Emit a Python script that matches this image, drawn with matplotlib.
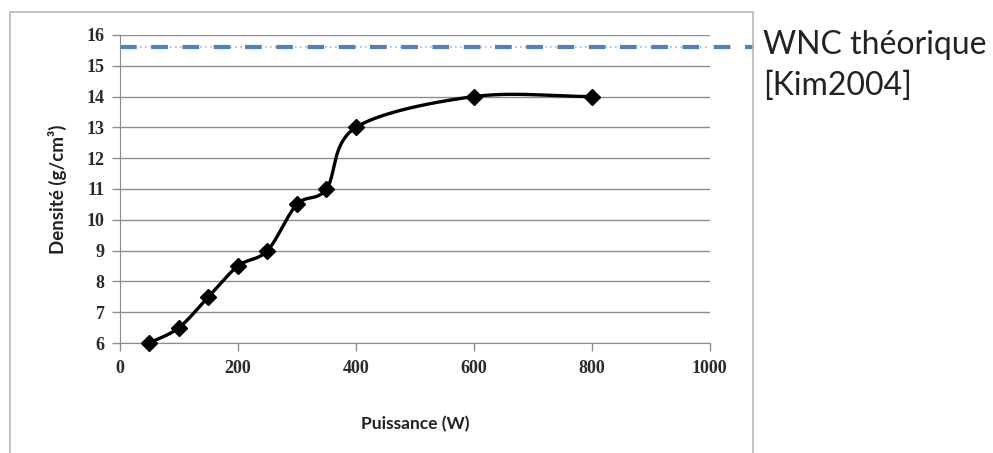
import numpy as np
import matplotlib.pyplot as plt
from matplotlib.patches import Rectangle

# data
puissance = [50, 100, 150, 200, 250, 300, 350, 400, 600, 800]
densite = [6.0, 6.5, 7.5, 8.5, 9.0, 10.5, 11.0, 13.0, 14.0, 14.0]
wnc_theorique = 15.6
x_ticks = [0, 200, 400, 600, 800, 1000]
y_ticks = [6, 7, 8, 9, 10, 11, 12, 13, 14, 15, 16]


def smooth_curve(x, y, n=40):
    """Catmull-Rom smoothing, similar to the spreadsheet 'smoothed line'"""
    x = np.asarray(x, float)
    y = np.asarray(y, float)
    px = np.concatenate([[2 * x[0] - x[1]], x, [2 * x[-1] - x[-2]]])
    py = np.concatenate([[2 * y[0] - y[1]], y, [2 * y[-1] - y[-2]]])
    xs, ys = [], []
    t = np.linspace(0, 1, n)
    for i in range(1, len(px) - 2):
        for p, out in ((px, xs), (py, ys)):
            p0, p1, p2, p3 = p[i - 1], p[i], p[i + 1], p[i + 2]
            out.append(0.5 * ((2 * p1) + (-p0 + p2) * t
                              + (2 * p0 - 5 * p1 + 4 * p2 - p3) * t ** 2
                              + (-p0 + 3 * p1 - 3 * p2 + p3) * t ** 3))
    return np.concatenate(xs), np.concatenate(ys)


fig = plt.figure(figsize=(9.93, 4.53), dpi=100)
ax = fig.add_axes([0.1208, 0.2428, 0.594, 0.68])

# outer chart frame
fig.patches.append(Rectangle((10 / 993, -0.05), 743 / 993, 1 - 12 / 453 + 0.05,
                             transform=fig.transFigure, fill=False,
                             edgecolor='#b8b8b8', linewidth=1.2))

sx, sy = smooth_curve(puissance, densite)
ax.plot(sx, sy, color='black', linewidth=2.4, zorder=3, clip_on=False)
ax.plot(puissance, densite, linestyle='none', marker='D', markersize=8,
        color='black', zorder=4, clip_on=False)

# theoretical density line, runs past the plot area
ax.plot([0, 1000], [wnc_theorique, wnc_theorique], color='#9dbbe0',
        linewidth=1.2, linestyle=(0, (1, 2)), zorder=2)
ax.plot([0, 1075], [wnc_theorique, wnc_theorique], color='#4f81bd',
        linewidth=3, linestyle=(0, (4, 3.5)), clip_on=False, zorder=2)

ax.set_xlim(0, 1000)
ax.set_ylim(6, 16)
ax.set_xticks(x_ticks)
ax.set_yticks(y_ticks)
ax.grid(axis='y', color='#8c8c8c', linewidth=1)
ax.set_axisbelow(True)

for side in ('top', 'right'):
    ax.spines[side].set_visible(False)
for side in ('left', 'bottom'):
    ax.spines[side].set_color('#8c8c8c')
ax.tick_params(axis='both', color='#8c8c8c', length=6, width=1)
ax.tick_params(axis='x', pad=6)
ax.tick_params(axis='y', pad=5)
for lab in ax.get_xticklabels() + ax.get_yticklabels():
    lab.set_fontfamily('Liberation Serif')
    lab.set_fontweight('bold')
    lab.set_fontsize(13)
    lab.set_color('#2a2a2a')

ax.set_xlabel('Puissance (W)', fontfamily='Lato', fontweight='bold',
              fontsize=12.5, labelpad=28, color='#222222')
ax.set_ylabel('Densité (g/cm³)', fontfamily='Lato', fontweight='bold',
              fontsize=13.5, labelpad=14, color='#222222')

fig.text(763 / 993, 1 - 45 / 453, 'WNC théorique', fontfamily='Lato',
         fontsize=23, va='center', ha='left', color='#222222')
fig.text(763 / 993, 1 - 86 / 453, '[Kim2004]', fontfamily='Lato',
         fontsize=23, va='center', ha='left', color='#222222')

fig.savefig('out.png', dpi=100)
